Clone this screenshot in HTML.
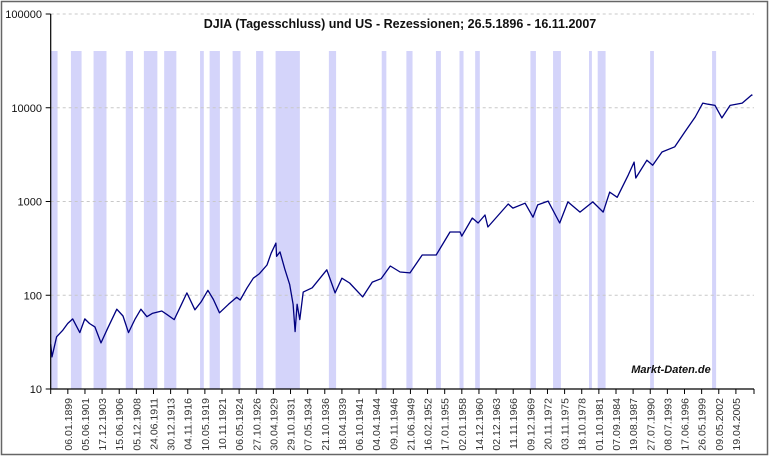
<!DOCTYPE html>
<html><head><meta charset="utf-8">
<style>
html,body{margin:0;padding:0;background:#fff;}
svg{display:block;font-family:"Liberation Sans",Arial,sans-serif;}
</style></head>
<body>
<svg id="chart" width="770" height="457" xmlns="http://www.w3.org/2000/svg">
<rect x="1.5" y="1.5" width="766" height="453" fill="#fff" stroke="#666" stroke-width="1.5"/>
<g id="bands"></g>
<g id="grid"></g>
<rect x="175" y="15" width="450" height="20" fill="#fff"/>
<text x="400" y="28" text-anchor="middle" font-size="12.5" font-weight="bold" fill="#111">DJIA (Tagesschluss) und US - Rezessionen; 26.5.1896 - 16.11.2007</text>
<g id="series"></g>
<g id="axes"></g>
<text x="671" y="373" text-anchor="middle" font-size="11" font-weight="bold" font-style="italic" fill="#111">Markt-Daten.de</text>
</svg>
<script>
const tickLabels = ["26.05.1896","06.01.1899","05.06.1901","17.12.1903","15.06.1906","05.12.1908","24.06.1911","30.12.1913","04.11.1916","10.05.1919","10.11.1921","06.05.1924","27.10.1926","30.04.1929","29.10.1931","07.05.1934","21.10.1936","18.04.1939","06.10.1941","04.04.1944","09.11.1946","21.06.1949","16.02.1952","17.01.1955","02.01.1958","14.12.1960","02.12.1963","11.11.1966","09.12.1969","20.11.1972","03.11.1975","18.10.1978","01.10.1981","07.09.1984","19.08.1987","27.07.1990","08.07.1993","17.06.1996","26.05.1999","09.05.2002","19.04.2005","16.11.2007"];
const yTicks = [10,100,1000,10000,100000];
const recStart = [1895.9,1899.45,1902.7,1907.4,1910.05,1913.05,1918.65,1920.05,1923.4,1926.8,1929.65,1937.4,1945.1,1948.85,1953.55,1957.6,1960.3,1969.95,1973.85,1980.05,1981.55,1990.55,2001.2];
const recEnd = [1897.45,1900.95,1904.6,1908.45,1912.05,1914.95,1919.2,1921.55,1924.55,1927.85,1933.2,1938.45,1945.8,1949.8,1954.4,1958.3,1961.1,1970.9,1975.2,1980.55,1982.9,1991.2,2001.9];
const dataYears = [1896.4,1896.6,1897.3,1898.2,1899.0,1899.7,1900.7,1901.4,1902.1,1902.9,1903.8,1904.8,1906.1,1907.0,1907.8,1908.7,1909.6,1910.5,1911.3,1912.7,1913.5,1914.6,1915.8,1916.7,1917.9,1918.8,1919.8,1920.6,1921.5,1922.8,1924.0,1924.5,1925.5,1926.4,1927.3,1928.4,1929.0,1929.7,1929.8,1930.3,1931.0,1931.7,1932.2,1932.5,1932.8,1933.2,1933.7,1935.0,1937.1,1938.3,1939.3,1940.4,1942.3,1943.7,1945.0,1946.4,1947.9,1949.4,1951.3,1953.6,1955.96,1957.7,1958.0,1959.8,1960.8,1962.0,1962.5,1966.0,1966.8,1969.0,1970.4,1971.2,1973.0,1975.0,1976.4,1978.5,1980.7,1982.5,1983.6,1984.9,1986.8,1987.8,1988.1,1990.0,1991.0,1992.6,1994.8,1996.5,1998.3,1999.6,2000.5,2001.7,2002.9,2004.3,2006.3,2007.85,2007.88];
const dataValues = [30,22,36,42,50,56,40,56,50,46,31,45,71,60,40,55,71,59,64,68,62,55,80,106,70,85,113,90,65,80,95,89,120,152,170,210,280,360,260,290,190,130,80,41,80,55,108,120,187,106,152,135,96,138,150,205,177,173,269,269,473,473,428,667,590,717,534,940,850,960,680,920,1010,590,990,770,990,770,1260,1110,1920,2630,1780,2760,2440,3370,3830,5500,7960,11200,10900,10600,7800,10600,11200,13700,13400];

const NS="http://www.w3.org/2000/svg";
const X0=50.7, XSTEP=17.13, YTOP=14, YBOT=389, XAXIS_END=754;
function parseDate(s){const p=s.split(".");return +p[2]+(+p[1]-1)/12+(+p[0]-1)/365;}
const tickYears = tickLabels.map(parseDate);
function xScale(yr){
  const n=tickYears.length;
  if(yr<=tickYears[0]) return X0;
  for(let i=1;i<n;i++){
    if(yr<=tickYears[i]){
      const x1=X0+XSTEP*(i-1), x2=(i===n-1)?752:X0+XSTEP*i;
      return x1+(yr-tickYears[i-1])/(tickYears[i]-tickYears[i-1])*(x2-x1);
    }
  }
  return 752;
}
function yScale(v){return YBOT-(Math.log10(v)-1)/4*(YBOT-YTOP);}
function mk(tag,attrs,parent){const e=document.createElementNS(NS,tag);for(const k in attrs)e.setAttribute(k,attrs[k]);parent.appendChild(e);return e;}

const bands=document.getElementById('bands');
for(let i=0;i<recStart.length;i++){
  const x1=Math.max(X0,xScale(recStart[i])), x2=xScale(recEnd[i]);
  const r=mk('rect',{x:x1,y:51,width:Math.max(1,x2-x1),height:YBOT-51,fill:'#d4d4fa'},bands);
  
  
}
const grid=document.getElementById('grid');
const axes=document.getElementById('axes');
yTicks.forEach(v=>{
  const y=yScale(v);
  if(v>10){
    const g=mk('line',{x1:X0,x2:XAXIS_END,y1:y,y2:y,stroke:'#c8c8c8','stroke-dasharray':'3,3'},grid);
    
    
  }
  mk('line',{x1:X0-5,x2:X0,y1:y,y2:y,stroke:'#000'},axes);
  const t=mk('text',{x:42,y:y+4,'text-anchor':'end','font-size':11,fill:'#111'},axes);
  t.textContent=v;
  
  
});
mk('line',{x1:X0,x2:X0,y1:YTOP,y2:YBOT,stroke:'#000','stroke-width':1.2},axes);
mk('line',{x1:X0,x2:XAXIS_END,y1:YBOT,y2:YBOT,stroke:'#000','stroke-width':1.2},axes);
for(let i=0;i<tickLabels.length-1;i++){
  const x=X0+XSTEP*i;
  mk('line',{x1:x,x2:x,y1:YBOT,y2:YBOT+5,stroke:'#000'},axes);
  if(i===0) continue;
  const t=mk('text',{x:0,y:0,'text-anchor':'end','font-size':10.5,fill:'#333',transform:`translate(${x+4},398) rotate(-90)`},axes);
  t.textContent=tickLabels[i];
  
  
}
mk('line',{x1:XAXIS_END,x2:XAXIS_END,y1:YBOT,y2:YBOT+5,stroke:'#000'},axes);

const series=document.getElementById('series');
let d='';
dataYears.forEach((yr,i)=>{d+=(i?'L':'M')+xScale(yr).toFixed(1)+','+yScale(dataValues[i]).toFixed(1);});
const p=mk('path',{d:d,fill:'none',stroke:'#000080','stroke-width':1.3,'stroke-linejoin':'round'},series);


</script>
</body></html>
